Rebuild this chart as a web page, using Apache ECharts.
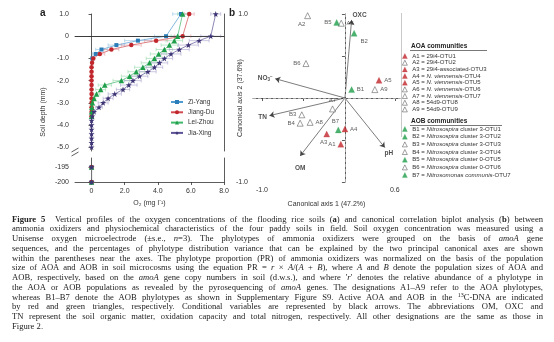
<!DOCTYPE html>
<html><head><meta charset="utf-8">
<script src="https://cdn.jsdelivr.net/npm/echarts@6/dist/echarts.min.js"></script>
<style>
html,body{margin:0;padding:0;background:#fff;}
#wrap{position:relative;width:554px;height:342px;overflow:hidden;background:#fff;}
#chart{position:absolute;left:0;top:0;width:554px;height:342px;}
#cap{position:absolute;left:12px;top:214.6px;width:531px;font-family:'Liberation Serif',serif;font-size:8.6px;line-height:9.75px;color:#222;}
#cap div{text-align:justify;text-align-last:justify;height:9.75px;}
#cap div.last{text-align-last:left;}
#cap sup{font-size:6px;line-height:0;vertical-align:3px;}
</style></head>
<body><div id="wrap"><div id="chart"></div><div id="cap"></div></div>
<script>
// ---------- Panel a data : oxygen profiles ----------
const siteNames = ['Zi-Yang','Jiang-Du','Lei-Zhou','Jia-Xing'];
const depthZY = [1.0,0,-0.2,-0.4,-0.6,-0.8,-1.0];
const o2ZY    = [5.4,4.5,2.8,1.5,0.6,0.25,0.05];
const errZY   = [0.5,0.7,0.8,0.5,0.35,0.2,0.1];
const depthJD = [1.0,0,-0.2,-0.4,-0.6,-0.8,-1.0,-1.2,-1.4,-1.6,-1.8,-2.0,-2.2,-2.4,-2.6,-2.8,-3.0,-3.2,-3.4,-3.6];
const o2JD    = [5.9,5.5,3.9,2.4,1.2,0.5,0.1,0.03,0,0,0,0,0,0,0,0,0,0,0,0];
const errJD   = [0.3,0.5,0.7,0.6,0.45,0.3,0.1,0,0,0,0,0,0,0,0,0,0,0,0,0];
const depthLZ = [1.0,0,-0.2,-0.4,-0.6,-0.8,-1.0,-1.2,-1.4,-1.6,-1.8,-2.0,-2.2,-2.4,-2.6,-2.8,-3.0,-3.2,-3.4,-3.6];
const o2LZ    = [5.5,5.2,5.0,4.7,4.4,4.05,3.8,3.5,3.1,2.7,2.3,1.8,0.8,0.55,0.3,0.15,0.05,0.02,0,0];
const errLZ   = [0.3,0.4,0.5,0.5,0.5,0.5,0.5,0.5,0.5,0.5,0.5,0.5,0.4,0.3,0.2,0.1,0.05,0,0,0];
const depthJX = [1.0,0,-0.2,-0.4,-0.6,-0.8,-1.0,-1.2,-1.4,-1.6,-1.8,-2.0,-2.2,-2.4,-2.6,-2.8,-3.0,-3.2,-3.4,-3.6,-3.8,-4.0,-4.2,-4.4,-4.6,-4.8,-5.0];
const o2JX    = [7.5,7.2,6.5,5.85,5.3,4.8,4.4,4.1,3.8,3.4,2.9,2.5,2.25,1.9,1.4,1.0,0.7,0.45,0.15,0.05,0,0,0,0,0,0,0];
const errJX   = [0.3,0.6,0.6,0.6,0.6,0.6,0.5,0.5,0.5,0.5,0.5,0.5,0.5,0.4,0.4,0.3,0.3,0.2,0.1,0.05,0,0,0,0,0,0,0];
const deepDepth = [-195,-200];
const deepO2    = [0,0];
const depthTicksUpper = [1,0,-1,-2,-3,-4,-5];
const depthTicksLower = [-195,-200];
const o2Ticks = [0,2,4,6,8];

// ---------- Panel b data : canonical correlation biplot ----------
const phyloNames = ['A1','A2','A3','A4','A5','A6','A7','A8','A9','B1','B2','B3','B4','B5','B6','B7'];
const phyloAxis1 = [-0.05,-0.45,-0.22,0.00,0.41,-0.045,-0.15,-0.42,0.36, 0.08,0.11,-0.52,-0.54,-0.10,-0.47,-0.08];
const phyloAxis2 = [-0.55,0.98,-0.43,-0.37,0.21,0.89,-0.13,-0.29,0.10, 0.10,0.77,-0.20,-0.30,0.90,0.41,-0.38];
const phyloActive = [1,0,1,1,1,0,0,0,0, 1,1,0,0,1,0,1];
const phyloDesc = {
  A1:'29i4-OTU1', A2:'29i4-OTU2', A3:'29i4-associated-OTU3',
  A4:'{i|N. viennensis}-OTU4', A5:'{i|N. viennensis}-OTU5', A6:'{i|N. viennensis}-OTU6', A7:'{i|N. viennensis}-OTU7',
  A8:'54d9-OTU8', A9:'54d9-OTU9',
  B1:'{i|Nitrosospira} cluster 3-OTU1', B2:'{i|Nitrosospira} cluster 3-OTU2', B3:'{i|Nitrosospira} cluster 3-OTU3',
  B4:'{i|Nitrosospira} cluster 3-OTU4', B5:'{i|Nitrosospira} cluster 0-OTU5', B6:'{i|Nitrosospira} cluster 0-OTU6',
  B7:'{i|Nitrosomonas communis}-OTU7'
};
const envNames = ['OXC','NO3','TN','OM','pH'];
const envAxis1 = [0.08,-0.84,-0.91,-0.54,0.48];
const envAxis2 = [0.93,0.23,-0.21,-0.69,-0.59];
const axis1Ticks = [-1.0,0.6];
const axis2Ticks = [1.0,-1.0];

const captionLines = [
 '<b>Figure 5</b>&nbsp; Vertical profiles of the oxygen concentrations of the flooding rice soils (<b>a</b>) and canonical correlation biplot analysis (<b>b</b>) between',
 'ammonia oxidizers and physiochemical characteristics of the four paddy soils in field. Soil oxygen concentration was measured using a',
 'Unisense oxygen microelectrode (±s.e., <i>n</i>=3). The phylotypes of ammonia oxidizers were grouped on the basis of <i>amoA</i> gene',
 'sequences, and the percentages of phylotype distribution variance that can be explained by the two principal canonical axes are shown',
 'within the parentheses near the axes. The phylotype proportion (PR) of ammonia oxidizers was normalized on the basis of the population',
 'size of AOA and AOB in soil microcosms using the equation PR = <i>r</i> × <i>A</i>/(<i>A</i> + <i>B</i>), where <i>A</i> and <i>B</i> denote the population sizes of AOA and',
 'AOB, respectively, based on the <i>amoA</i> gene copy numbers in soil (d.w.s.), and where \'<i>r</i>\' denotes the relative abundance of a phylotype in',
 'the AOA or AOB populations as revealed by the pyrosequencing of <i>amoA</i> genes. The designations A1–A9 refer to the AOA phylotypes,',
 'whereas B1–B7 denote the AOB phylotypes as shown in Supplementary Figure S9. Active AOA and AOB in the <sup>13</sup>C-DNA are indicated',
 'by red and green triangles, respectively. Conditional variables are represented by black arrows. The abbreviations OM, OXC and',
 'TN represent the soil organic matter, oxidation capacity and total nitrogen, respectively. All other designations are the same as those in',
 'Figure 2.'
];

// ---------- styles ----------
const FONT = 'Liberation Sans';
const STAR = 'path://M0,-10L2.35,-3.24L9.51,-3.09L3.8,1.24L5.88,8.09L0,4L-5.88,8.09L-3.8,1.24L-9.51,-3.09L-2.35,-3.24Z';
const siteColor = ['#2a7db8','#c0262c','#1f9e4a','#3d3475'];
const siteLineColor = ['#4f9bd0','#d24a50','#3fb86a','#5b5396'];
const siteErrColor = ['#92c2e2','#e79ca0','#95d9ab','#a8a2cc'];
const siteSymbol = ['rect','circle','triangle',STAR];
const siteSymbolSize = [4,4.5,5.5,6];
const siteDepths = [depthZY,depthJD,depthLZ,depthJX];
const siteO2 = [o2ZY,o2JD,o2LZ,o2JX];
const siteErr = [errZY,errJD,errLZ,errJX];
const labelPlace = {
  A1:{position:'left'}, A2:{position:'bottom',offset:[-6,0]}, A3:{position:'bottom',offset:[-3,0]},
  A4:{position:'right'}, A5:{position:'right'}, A6:{position:'right'}, A7:{position:'top'},
  A8:{position:'right'}, A9:{position:'right'}, B1:{position:'right'}, B2:{position:'bottom',offset:[10,0]},
  B3:{position:'left'}, B4:{position:'left'}, B5:{position:'left'}, B6:{position:'left'}, B7:{position:'top',offset:[-3,0]}
};
const envLabelPlace = {
  OXC:{position:'top',offset:[8,1]}, NO3:{position:'left'}, TN:{position:'left',offset:[0,2]},
  OM:{position:'bottom',distance:8}, pH:{position:'bottom',offset:[4,0]}
};
const envLabelText = {OXC:'OXC', NO3:'{b|NO}{s|3}{p|−}', TN:'TN', OM:'OM', pH:'pH'};

document.getElementById('cap').innerHTML = captionLines.map((l,i)=>
  '<div'+(i===captionLines.length-1?' class="last"':'')+'>'+l+'</div>').join('');

function fmt1(v){ return v===0 ? '0' : v.toFixed(1); }
function makeErr(color){
  return function(params, api){
    const lo = api.value(0), d = api.value(1), hi = api.value(2);
    const p1 = api.coord([lo,d]), p2 = api.coord([hi,d]);
    const st = {stroke:color, lineWidth:0.6};
    return {type:'group', children:[
      {type:'line', shape:{x1:p1[0],y1:p1[1],x2:p2[0],y2:p2[1]}, style:st},
      {type:'line', shape:{x1:p1[0],y1:p1[1]-1.8,x2:p1[0],y2:p1[1]+1.8}, style:st},
      {type:'line', shape:{x1:p2[0],y1:p2[1]-1.8,x2:p2[0],y2:p2[1]+1.8}, style:st}
    ]};
  };
}
function phyloStyle(i){
  const isA = phyloNames[i][0]==='A';
  return phyloActive[i]
    ? {color: isA ? '#c0262c' : '#1f9e4a', borderColor: isA ? '#c0262c' : '#1f9e4a', borderWidth:0.3}
    : {color:'#fff', borderColor:'#555', borderWidth:0.7};
}

const axisLineStyle = {show:true, lineStyle:{color:'#333', width:0.8}};
const tickStyle = {show:true, length:3, lineStyle:{color:'#333', width:0.8}};
const lblStyle = {fontSize:7, color:'#333', fontFamily:FONT};

const series = [];
siteNames.forEach((n,i)=>{
  const data = [];
  siteDepths[i].forEach((d,k)=>{ if (siteErr[i][k] > 0) data.push([siteO2[i][k]-siteErr[i][k], d, siteO2[i][k]+siteErr[i][k]]); });
  series.push({type:'custom', name:'err-'+n, xAxisIndex:0, yAxisIndex:0, renderItem:makeErr(siteErrColor[i]),
    data:data, encode:{x:[0,2], y:1}, z:1, silent:true, clip:false});
});
siteNames.forEach((n,i)=>{
  const s = {type:'line', name:n, xAxisIndex:0, yAxisIndex:0,
    data: siteDepths[i].map((d,k)=>[siteO2[i][k], d]),
    symbol:siteSymbol[i], symbolSize:siteSymbolSize[i], showAllSymbol:true, clip:false,
    itemStyle:{color:siteColor[i]}, lineStyle:{color:siteLineColor[i], width:0.7}, z:3+i, silent:true};
  if (i===0) s.markLine = {silent:true, symbol:'none', label:{show:false}, animation:false,
    lineStyle:{color:'#333', width:0.8, type:'solid'}, data:[{yAxis:0}]};
  series.push(s);
});
siteNames.forEach((n,i)=>{
  series.push({type:'line', name:n, xAxisIndex:1, yAxisIndex:2,
    data: deepDepth.map((d,k)=>[deepO2[k], d]),
    symbol:siteSymbol[i], symbolSize:siteSymbolSize[i], showAllSymbol:true, clip:false,
    itemStyle:{color:siteColor[i]}, lineStyle:{color:'#777', width:0.6}, z:3+i, silent:true});
});
// panel b arrows
series.push({type:'lines', coordinateSystem:'cartesian2d', xAxisIndex:2, yAxisIndex:4, silent:true,
  data: envNames.map((n,i)=>({coords:[[0,0],[envAxis1[i],envAxis2[i]]]})),
  symbol:['none','arrow'], symbolSize:[0,5], lineStyle:{color:'#444', width:0.7, opacity:1}, z:2});
series.push({type:'scatter', name:'env', xAxisIndex:2, yAxisIndex:4, silent:true, symbolSize:1,
  itemStyle:{color:'rgba(0,0,0,0)'},
  data: envNames.map((n,i)=>({value:[envAxis1[i],envAxis2[i]], name:n, label:envLabelPlace[n]})),
  label:{show:true, distance:2, formatter:p=>envLabelText[p.name], fontSize:6.5, fontWeight:'bold', color:'#222', fontFamily:FONT,
    rich:{b:{fontSize:6.5,fontWeight:'bold',color:'#222',fontFamily:FONT},
          s:{fontSize:4.5,fontWeight:'bold',color:'#222',fontFamily:FONT,verticalAlign:'bottom',padding:[3,0,0,0]},
          p:{fontSize:4.5,fontWeight:'bold',color:'#222',fontFamily:FONT,verticalAlign:'top',padding:[0,0,3,0]}}},
  markLine:{silent:true, symbol:'none', label:{show:false}, animation:false,
    lineStyle:{color:'#bbb', width:0.8, type:[3,2]}, data:[{xAxis:0},{yAxis:0}]}, z:1});
phyloNames.forEach((n,i)=>{
  series.push({type:'scatter', name:n, xAxisIndex:2, yAxisIndex:4, silent:true,
    data:[[phyloAxis1[i], phyloAxis2[i]]], symbol:'triangle', symbolSize:6, itemStyle:phyloStyle(i), z:5,
    label:Object.assign({show:true, formatter:n, distance:2, fontSize:6, color:'#333', fontFamily:FONT}, labelPlace[n])});
});

const legendRich = {i:{fontStyle:'italic', fontSize:6, color:'#333', fontFamily:FONT}};
const phyloLegendData = phyloNames.map((n,i)=>({name:n, icon:'triangle', itemStyle:phyloStyle(i)}));

const option = {
  animation:false,
  backgroundColor:'#fff',
  textStyle:{fontFamily:FONT},
  grid:[
    {left:75, top:14, width:149, height:137},
    {left:75, top:158, width:149, height:24},
    {left:253, top:14, width:147, height:168}
  ],
  xAxis:[
    {type:'value', gridIndex:0, min:-1, max:8, position:'top', axisLine:axisLineStyle, axisTick:{show:false}, axisLabel:{show:false}, splitLine:{show:false}},
    {type:'value', gridIndex:1, min:-1, max:8, position:'bottom', axisLine:axisLineStyle,
      axisTick:Object.assign({customValues:o2Ticks}, tickStyle),
      axisLabel:Object.assign({customValues:o2Ticks, formatter:fmt1, margin:6}, lblStyle), splitLine:{show:false},
      name:'O₂ (mg l⁻¹)', nameLocation:'middle', nameGap:18, nameMoveOverlap:false, nameTextStyle:{fontSize:7, color:'#333', fontFamily:FONT}},
    {type:'value', gridIndex:2, min:-1.108, max:0.663, axisLine:axisLineStyle,
      axisTick:Object.assign({customValues:[-1.0,-0.5,0,0.6]}, tickStyle),
      axisLabel:Object.assign({customValues:axis1Ticks, formatter:v=>v.toFixed(1), margin:5}, lblStyle), splitLine:{show:false},
      name:'Canonical axis 1 (47.2%)', nameLocation:'middle', nameGap:19, nameMoveOverlap:false, nameTextStyle:{fontSize:7, color:'#333', fontFamily:FONT}}
  ],
  yAxis:[
    {type:'value', gridIndex:0, min:-5.17, max:1, axisLine:axisLineStyle,
      axisTick:Object.assign({customValues:depthTicksUpper}, tickStyle),
      axisLabel:Object.assign({customValues:depthTicksUpper, formatter:fmt1, margin:6}, lblStyle), splitLine:{show:false}},
    {type:'value', gridIndex:0, min:-5.17, max:1, position:'right', axisLine:axisLineStyle, axisTick:{show:false}, axisLabel:{show:false}, splitLine:{show:false}},
    {type:'value', gridIndex:1, min:-200, max:-192, axisLine:axisLineStyle,
      axisTick:Object.assign({customValues:depthTicksLower}, tickStyle),
      axisLabel:Object.assign({customValues:depthTicksLower, formatter:v=>String(v), margin:6}, lblStyle), splitLine:{show:false}},
    {type:'value', gridIndex:1, min:-200, max:-192, position:'right', axisLine:axisLineStyle, axisTick:{show:false}, axisLabel:{show:false}, splitLine:{show:false}},
    {type:'value', gridIndex:2, min:-1, max:1, axisLine:axisLineStyle,
      axisTick:Object.assign({customValues:[1,0.5,0,-0.5,-1]}, tickStyle),
      axisLabel:Object.assign({customValues:axis2Ticks, formatter:v=>v.toFixed(1), margin:5}, lblStyle), splitLine:{show:false},
      name:'Canonical axis 2 (37.6%)', nameLocation:'middle', nameGap:9, nameMoveOverlap:false, nameTextStyle:{fontSize:7, color:'#333', fontFamily:FONT}}
  ],
  legend:[
    {data:siteNames, orient:'vertical', left:170, top:98, padding:0, itemWidth:12, itemHeight:5, itemGap:2.3, selectedMode:false,
      textStyle:{fontSize:6.5, lineHeight:8, color:'#333', fontFamily:FONT}},
    {data:phyloLegendData.slice(0,9), orient:'vertical', left:402, top:52.7, padding:0, itemWidth:5, itemHeight:5, itemGap:0, selectedMode:false,
      formatter:n=>n+' = '+phyloDesc[n], textStyle:{fontSize:6, lineHeight:6.67, color:'#333', fontFamily:FONT, rich:legendRich}},
    {data:phyloLegendData.slice(9), orient:'vertical', left:402, top:125.2, padding:0, itemWidth:5, itemHeight:5, itemGap:0, selectedMode:false,
      formatter:n=>n+' = '+phyloDesc[n], textStyle:{fontSize:6, lineHeight:7.67, color:'#333', fontFamily:FONT, rich:legendRich}}
  ],
  graphic:[
    {type:'text', left:40, top:8, style:{text:'a', font:'bold 10px '+FONT, fill:'#222'}},
    {type:'text', left:229, top:8, style:{text:'b', font:'bold 10px '+FONT, fill:'#222'}},
    {type:'text', x:43, y:112, rotation:Math.PI/2, style:{text:'Soil depth (mm)', font:'7px '+FONT, fill:'#333', align:'center', verticalAlign:'middle'}},
    {type:'line', shape:{x1:71.5,y1:152,x2:78.5,y2:148}, style:{stroke:'#333', lineWidth:0.8}},
    {type:'line', shape:{x1:71.5,y1:156,x2:78.5,y2:152}, style:{stroke:'#333', lineWidth:0.8}},
    {type:'text', x:411, y:46, style:{text:'AOA communities', font:'bold 6.5px '+FONT, fill:'#222', verticalAlign:'middle'}},
    {type:'line', shape:{x1:410,y1:50.5,x2:487,y2:50.5}, style:{stroke:'#555', lineWidth:0.8}},
    {type:'text', x:411, y:121, style:{text:'AOB communities', font:'bold 6.5px '+FONT, fill:'#222', verticalAlign:'middle'}},
    {type:'line', shape:{x1:410,y1:125.5,x2:502,y2:125.5}, style:{stroke:'#555', lineWidth:0.8}},
    {type:'line', shape:{x1:401.5,y1:13,x2:401.5,y2:137}, style:{stroke:'#bbb', lineWidth:0.8}}
  ],
  series:series
};
const chart = echarts.init(document.getElementById('chart'), null, {renderer:'canvas'});
chart.setOption(option);
</script></body></html>
